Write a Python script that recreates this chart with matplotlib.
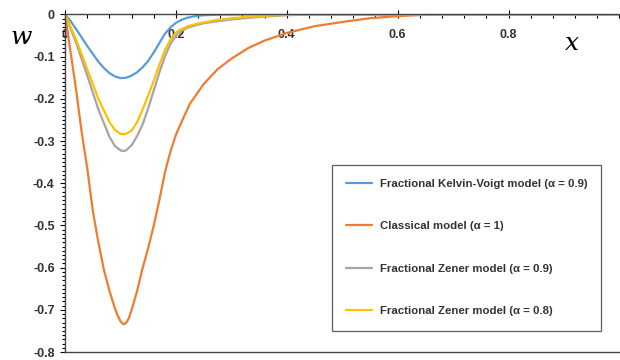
import numpy as np
import matplotlib
matplotlib.use("Agg")
import matplotlib.pyplot as plt
from matplotlib.ticker import MultipleLocator

# ── Data ───────────────────────────────────────────────────────────────────
kv_x = [0, 0.01, 0.02, 0.04, 0.06, 0.07, 0.08, 0.09, 0.10, 0.11, 0.12, 0.13, 0.14,
        0.15, 0.16, 0.17, 0.18, 0.19, 0.20, 0.21, 0.22, 0.235, 0.25, 0.28, 0.32, 1.0]
kv_w = [0, -0.016, -0.035, -0.075, -0.112, -0.127, -0.139, -0.147, -0.151, -0.150,
        -0.145, -0.137, -0.125, -0.110, -0.090, -0.068, -0.046, -0.031, -0.020,
        -0.013, -0.008, -0.004, -0.002, -0.0005, 0, 0]

cl_x = [0, 0.01, 0.02, 0.03, 0.04, 0.05, 0.06, 0.07, 0.08, 0.09, 0.095, 0.10, 0.105,
        0.11, 0.115, 0.12, 0.13, 0.14, 0.15, 0.16, 0.17, 0.18, 0.19, 0.20, 0.21, 0.225,
        0.25, 0.275, 0.30, 0.33, 0.36, 0.40, 0.45, 0.50, 0.55, 0.60, 0.65, 0.70, 1.0]
cl_w = [0, -0.09, -0.18, -0.28, -0.365, -0.465, -0.54, -0.605, -0.655, -0.697,
        -0.714, -0.727, -0.734, -0.731, -0.72, -0.70, -0.655, -0.60, -0.553, -0.50,
        -0.44, -0.375, -0.325, -0.285, -0.255, -0.212, -0.165, -0.13, -0.105, -0.08,
        -0.062, -0.044, -0.028, -0.018, -0.009, -0.004, -0.001, 0, 0]

z9_x = [0, 0.02, 0.04, 0.06, 0.08, 0.09, 0.10, 0.105, 0.11, 0.12, 0.13, 0.14,
        0.15, 0.16, 0.17, 0.18, 0.19, 0.20, 0.21, 0.22, 0.235, 0.25, 0.275, 0.30,
        0.35, 0.40, 0.45, 1.0]
z9_w = [0, -0.068, -0.145, -0.225, -0.29, -0.312, -0.322, -0.324, -0.322, -0.31,
        -0.288, -0.26, -0.222, -0.18, -0.138, -0.10, -0.07, -0.05, -0.039, -0.032,
        -0.026, -0.021, -0.016, -0.012, -0.006, -0.002, 0, 0]

z8_x = [0, 0.02, 0.04, 0.06, 0.08, 0.09, 0.10, 0.105, 0.11, 0.12, 0.13, 0.14,
        0.15, 0.16, 0.17, 0.18, 0.19, 0.20, 0.21, 0.22, 0.235, 0.25, 0.275, 0.30,
        0.35, 0.40, 0.45, 1.0]
z8_w = [0, -0.06, -0.13, -0.20, -0.255, -0.274, -0.283, -0.284, -0.283, -0.275,
        -0.255, -0.225, -0.192, -0.157, -0.12, -0.085, -0.06, -0.043, -0.035,
        -0.029, -0.023, -0.019, -0.013, -0.009, -0.004, -0.001, 0, 0]

labels = ["Fractional Kelvin-Voigt model (\u03b1 = 0.9)",
          "Classical model (\u03b1 = 1)",
          "Fractional Zener model (\u03b1 = 0.9)",
          "Fractional Zener model (\u03b1 = 0.8)"]
colors = ["#5B9BD5", "#ED7D31", "#A5A5A5", "#FFC000"]

# ── Plot ───────────────────────────────────────────────────────────────────
plt.rcParams["font.family"] = ["Liberation Sans", "DejaVu Sans"]

fig = plt.figure(figsize=(6.2, 3.6), dpi=100)
ax = fig.add_axes([0.105, 0.022, 0.894, 0.938])

series = [(kv_x, kv_w), (cl_x, cl_w), (z9_x, z9_w), (z8_x, z8_w)]
for (xs, ws), lab, col in zip(series, labels, colors):
    ax.plot(xs, ws, color=col, lw=1.6, label=lab, solid_capstyle="round",
            solid_joinstyle="round")

ax.set_xlim(0, 1.0)
ax.set_ylim(-0.8, 0)

ax.xaxis.set_minor_locator(MultipleLocator(0.04))
ax.yaxis.set_minor_locator(MultipleLocator(0.01))

ax.set_xticks([0, 0.2, 0.4, 0.6, 0.8])
ax.set_xticklabels(["0", "0.2", "0.4", "0.6", "0.8"])
ax.set_yticks(np.arange(-0.8, 0.01, 0.1))
ax.set_yticklabels(["-0.8", "-0.7", "-0.6", "-0.5", "-0.4", "-0.3", "-0.2", "-0.1", "0"])

ax.tick_params(axis="x", which="major", top=True, bottom=False, labeltop=True,
               labelbottom=False, direction="inout", length=6, width=0.8,
               pad=-22, labelsize=9)
ax.tick_params(axis="x", which="minor", top=True, bottom=False, direction="in",
               length=3, width=0.8)
ax.tick_params(axis="y", which="major", direction="out", length=3.5, width=0.8,
               labelsize=9, pad=4)
ax.tick_params(axis="y", which="minor", direction="out", length=2, width=0.8)
for t in ax.get_xticklabels() + ax.get_yticklabels():
    t.set_fontweight("bold")
    t.set_color("#333333")

ax.spines["right"].set_visible(False)
for s in ["top", "left", "bottom"]:
    ax.spines[s].set_color("#444444")
    ax.spines[s].set_linewidth(1.0)

fig.text(0.035, 0.895, "w", fontsize=18, style="italic", family="DejaVu Serif",
         ha="center", va="center")
fig.text(0.923, 0.88, "x", fontsize=18, style="italic", family="DejaVu Serif",
         ha="center", va="center")

leg = ax.legend(loc="upper left", bbox_to_anchor=(0.482, 0.555), borderaxespad=0,
                frameon=True, fancybox=False, edgecolor="#333333",
                labelspacing=2.85, handlelength=2.2, handletextpad=0.7,
                borderpad=1.25, prop={"weight": "bold", "size": 8.2})
leg.get_frame().set_linewidth(0.9)
for t in leg.get_texts():
    t.set_color("#333333")

fig.savefig("out.png", dpi=100)
